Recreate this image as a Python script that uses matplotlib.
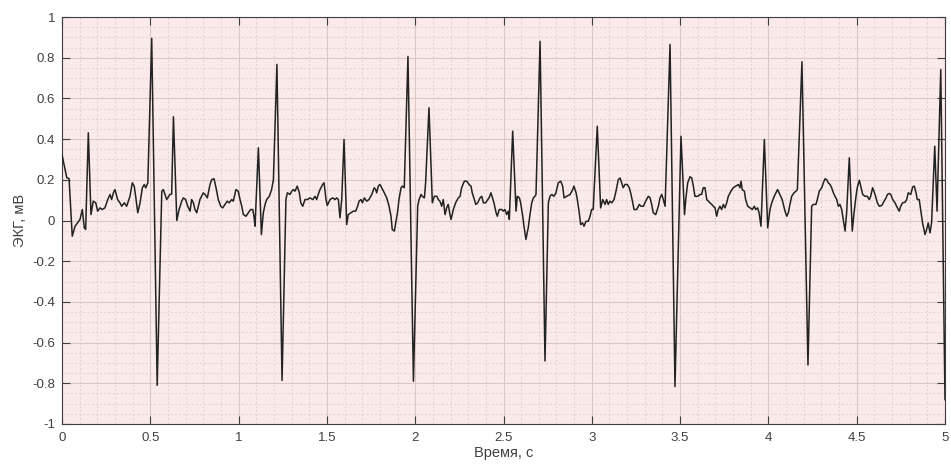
import matplotlib
matplotlib.use("Agg")
import matplotlib.pyplot as plt
from matplotlib.ticker import MultipleLocator, FixedLocator

# ---- data (time in s, ECG in mV) ----
time_s = [
    0.000, 0.027, 0.040, 0.058, 0.074, 0.102, 0.115, 0.126, 0.134, 0.149,
    0.164, 0.177, 0.191, 0.202, 0.215, 0.228, 0.243, 0.259, 0.272, 0.281,
    0.291, 0.300, 0.315, 0.328, 0.338, 0.353, 0.366, 0.385, 0.398, 0.409,
    0.417, 0.429, 0.442, 0.455, 0.466, 0.474, 0.486, 0.508, 0.539, 0.565,
    0.574, 0.593, 0.611, 0.621, 0.631, 0.650, 0.663, 0.678, 0.687, 0.700,
    0.712, 0.725, 0.734, 0.744, 0.753, 0.763, 0.781, 0.800, 0.810, 0.823,
    0.838, 0.848, 0.861, 0.872, 0.885, 0.899, 0.910, 0.923, 0.936, 0.947,
    0.961, 0.970, 0.985, 0.998, 1.008, 1.018, 1.027, 1.042, 1.055, 1.068,
    1.080, 1.087, 1.093, 1.112, 1.129, 1.140, 1.150, 1.159, 1.174, 1.187,
    1.197, 1.217, 1.246, 1.268, 1.276, 1.291, 1.301, 1.310, 1.319, 1.332,
    1.344, 1.352, 1.363, 1.376, 1.389, 1.404, 1.420, 1.433, 1.442, 1.451,
    1.461, 1.476, 1.484, 1.495, 1.502, 1.518, 1.533, 1.546, 1.555, 1.565,
    1.574, 1.584, 1.597, 1.612, 1.621, 1.636, 1.650, 1.663, 1.674, 1.682,
    1.693, 1.701, 1.712, 1.725, 1.738, 1.754, 1.768, 1.776, 1.782, 1.791,
    1.801, 1.810, 1.825, 1.839, 1.852, 1.863, 1.870, 1.882, 1.890, 1.901,
    1.908, 1.920, 1.927, 1.938, 1.959, 1.990, 2.014, 2.022, 2.033, 2.040,
    2.052, 2.059, 2.078, 2.097, 2.108, 2.122, 2.131, 2.140, 2.150, 2.159,
    2.169, 2.178, 2.187, 2.197, 2.203, 2.216, 2.229, 2.244, 2.254, 2.263,
    2.278, 2.292, 2.305, 2.316, 2.323, 2.335, 2.343, 2.354, 2.367, 2.377,
    2.386, 2.399, 2.411, 2.418, 2.429, 2.446, 2.458, 2.465, 2.476, 2.490,
    2.499, 2.508, 2.518, 2.527, 2.533, 2.552, 2.571, 2.578, 2.590, 2.597,
    2.609, 2.616, 2.627, 2.640, 2.650, 2.660, 2.669, 2.678, 2.684, 2.707,
    2.735, 2.754, 2.763, 2.773, 2.786, 2.797, 2.810, 2.824, 2.835, 2.843,
    2.858, 2.877, 2.892, 2.899, 2.911, 2.918, 2.929, 2.937, 2.948, 2.956,
    2.967, 2.980, 2.990, 2.999, 3.008, 3.031, 3.050, 3.062, 3.075, 3.084,
    3.093, 3.103, 3.113, 3.126, 3.137, 3.150, 3.160, 3.169, 3.178, 3.188,
    3.201, 3.212, 3.220, 3.232, 3.239, 3.254, 3.269, 3.279, 3.292, 3.305,
    3.320, 3.330, 3.339, 3.348, 3.362, 3.377, 3.386, 3.396, 3.405, 3.415,
    3.443, 3.471, 3.505, 3.525, 3.532, 3.543, 3.556, 3.566, 3.575, 3.584,
    3.600, 3.613, 3.622, 3.631, 3.641, 3.651, 3.660, 3.669, 3.679, 3.688,
    3.698, 3.707, 3.716, 3.726, 3.735, 3.745, 3.754, 3.764, 3.773, 3.788,
    3.801, 3.815, 3.830, 3.839, 3.845, 3.852, 3.864, 3.871, 3.883, 3.896,
    3.909, 3.920, 3.928, 3.939, 3.947, 3.958, 3.977, 3.996, 4.009, 4.019,
    4.033, 4.052, 4.065, 4.078, 4.094, 4.104, 4.113, 4.122, 4.132, 4.145,
    4.156, 4.164, 4.190, 4.224, 4.245, 4.254, 4.269, 4.277, 4.288, 4.302,
    4.311, 4.321, 4.330, 4.339, 4.349, 4.358, 4.368, 4.377, 4.387, 4.396,
    4.405, 4.415, 4.424, 4.434, 4.443, 4.458, 4.475, 4.485, 4.496, 4.503,
    4.515, 4.523, 4.534, 4.547, 4.560, 4.571, 4.579, 4.590, 4.604, 4.617,
    4.628, 4.642, 4.655, 4.666, 4.674, 4.685, 4.693, 4.704, 4.717, 4.726,
    4.741, 4.749, 4.760, 4.774, 4.783, 4.792, 4.806, 4.817, 4.826, 4.836,
    4.843, 4.854, 4.862, 4.873, 4.887, 4.896, 4.905, 4.915, 4.924, 4.942,
    4.955, 4.976, 5.000,
]

ecg_mv = [
    0.324, 0.210, 0.206, -0.077, -0.028, 0.005, 0.054, -0.036, -0.044, 0.431,
    0.029, 0.095, 0.087, 0.046, 0.062, 0.054, 0.062, 0.103, 0.128, 0.103,
    0.136, 0.152, 0.103, 0.087, 0.070, 0.087, 0.070, 0.119, 0.185, 0.169,
    0.119, 0.038, 0.087, 0.161, 0.177, 0.160, 0.185, 0.895, -0.810, 0.144,
    0.152, 0.103, 0.128, 0.130, 0.510, 0.000, 0.054, 0.095, 0.111, 0.103,
    0.070, 0.046, 0.103, 0.087, 0.054, 0.038, 0.103, 0.136, 0.128, 0.111,
    0.177, 0.201, 0.205, 0.161, 0.103, 0.070, 0.062, 0.079, 0.095, 0.087,
    0.103, 0.095, 0.152, 0.144, 0.103, 0.070, 0.029, 0.021, 0.038, 0.054,
    0.054, 0.021, -0.028, 0.357, -0.069, 0.038, 0.079, 0.103, 0.119, 0.152,
    0.201, 0.767, -0.786, 0.103, 0.136, 0.128, 0.144, 0.152, 0.144, 0.169,
    0.136, 0.087, 0.070, 0.103, 0.103, 0.111, 0.103, 0.119, 0.103, 0.128,
    0.152, 0.177, 0.185, 0.103, 0.074, 0.103, 0.111, 0.103, 0.111, 0.103,
    0.013, 0.103, 0.398, -0.020, 0.029, 0.038, 0.046, 0.046, 0.070, 0.095,
    0.103, 0.087, 0.111, 0.095, 0.103, 0.128, 0.161, 0.152, 0.136, 0.169,
    0.177, 0.161, 0.136, 0.111, 0.070, 0.021, -0.044, -0.052, -0.012, 0.046,
    0.103, 0.161, 0.169, 0.161, 0.806, -0.790, 0.070, 0.103, 0.128, 0.119,
    0.111, 0.185, 0.554, 0.087, 0.119, 0.119, 0.103, 0.095, 0.070, 0.103,
    0.029, 0.062, 0.079, 0.029, 0.005, 0.054, 0.087, 0.111, 0.119, 0.161,
    0.193, 0.193, 0.177, 0.169, 0.136, 0.103, 0.079, 0.087, 0.111, 0.119,
    0.087, 0.087, 0.103, 0.111, 0.136, 0.087, 0.038, 0.021, 0.054, 0.054,
    0.046, 0.054, 0.029, 0.046, 0.005, 0.439, 0.046, 0.119, 0.111, 0.087,
    0.021, -0.028, -0.093, -0.036, 0.029, 0.087, 0.111, 0.119, 0.128, 0.880,
    -0.690, 0.087, 0.119, 0.128, 0.119, 0.136, 0.185, 0.193, 0.169, 0.111,
    0.119, 0.128, 0.152, 0.169, 0.136, 0.103, 0.038, -0.020, -0.012, -0.028,
    -0.004, -0.004, 0.021, 0.054, 0.054, 0.463, 0.062, 0.103, 0.079, 0.103,
    0.079, 0.095, 0.087, 0.103, 0.144, 0.201, 0.209, 0.185, 0.161, 0.177,
    0.177, 0.161, 0.136, 0.087, 0.054, 0.054, 0.079, 0.070, 0.070, 0.095,
    0.119, 0.111, 0.079, 0.038, 0.029, 0.070, 0.111, 0.128, 0.103, 0.070,
    0.865, -0.816, 0.414, 0.029, 0.103, 0.185, 0.215, 0.209, 0.169, 0.119,
    0.119, 0.128, 0.128, 0.161, 0.161, 0.103, 0.095, 0.087, 0.079, 0.070,
    0.062, 0.021, 0.054, 0.070, 0.054, 0.079, 0.062, 0.087, 0.119, 0.144,
    0.161, 0.169, 0.177, 0.161, 0.193, 0.152, 0.144, 0.103, 0.070, 0.062,
    0.054, 0.070, 0.054, 0.062, 0.038, -0.028, 0.398, -0.036, 0.054, 0.087,
    0.119, 0.152, 0.128, 0.103, 0.046, 0.021, 0.038, 0.079, 0.119, 0.136,
    0.144, 0.152, 0.780, -0.710, 0.070, 0.079, 0.079, 0.103, 0.144, 0.161,
    0.185, 0.205, 0.201, 0.185, 0.177, 0.161, 0.136, 0.119, 0.103, 0.070,
    0.079, 0.054, 0.005, -0.052, 0.038, 0.308, -0.052, 0.038, 0.119, 0.161,
    0.198, 0.169, 0.128, 0.119, 0.119, 0.103, 0.119, 0.161, 0.128, 0.087,
    0.070, 0.074, 0.095, 0.111, 0.128, 0.133, 0.128, 0.103, 0.087, 0.070,
    0.046, 0.070, 0.087, 0.090, 0.103, 0.136, 0.128, 0.165, 0.169, 0.136,
    0.103, 0.103, 0.054, -0.012, -0.069, -0.044, -0.012, -0.061, -0.012, 0.365,
    0.046, 0.742, -0.880,
]

x_ticks = [0, 0.5, 1, 1.5, 2, 2.5, 3, 3.5, 4, 4.5, 5]
x_tick_labels = ["0", "0.5", "1", "1.5", "2", "2.5", "3", "3.5", "4", "4.5", "5"]
y_ticks = [-1, -0.8, -0.6, -0.4, -0.2, 0, 0.2, 0.4, 0.6, 0.8, 1]
y_tick_labels = ["-1", "-0.8", "-0.6", "-0.4", "-0.2", "0", "0.2", "0.4", "0.6", "0.8", "1"]
x_label = "Время, с"
y_label = "ЭКГ, мВ"

plt.rcParams["font.family"] = ["Liberation Sans", "DejaVu Sans"]

fig = plt.figure(figsize=(9.51, 4.68), dpi=100)
fig.patch.set_facecolor("white")
ax = fig.add_axes([62 / 951, 1 - 424 / 468, (945 - 62) / 951, (424 - 17) / 468])
ax.set_facecolor("#fbeaea")

ax.plot(time_s, ecg_mv, color="#222222", linewidth=1.1, zorder=3)

ax.set_xlim(0, 5)
ax.set_ylim(-1, 1)
ax.xaxis.set_major_locator(FixedLocator(x_ticks))
ax.set_xticklabels(x_tick_labels)
ax.yaxis.set_major_locator(FixedLocator(y_ticks))
ax.set_yticklabels(y_tick_labels)
ax.xaxis.set_minor_locator(MultipleLocator(0.1))
ax.yaxis.set_minor_locator(MultipleLocator(0.05))

ax.grid(which="major", color="#dcc6c6", linewidth=0.8, linestyle="-", zorder=1)
ax.grid(which="minor", color="#dfcfcf", linewidth=0.6, linestyle=(0, (2.5, 2.5)), zorder=1)
ax.set_axisbelow(True)

ax.tick_params(which="major", direction="in", length=6, width=0.8, top=True, right=True,
               colors="#404040", labelsize=9.5, labelcolor="#404040")
ax.tick_params(which="major", axis="x", pad=6)
ax.tick_params(which="major", axis="y", pad=5)
ax.tick_params(which="minor", length=0, top=True, right=True)
for s in ax.spines.values():
    s.set_color("#404040")
    s.set_linewidth(0.8)

ax.set_xlabel(x_label, fontsize=10.5, color="#404040", labelpad=1)
ax.set_ylabel(y_label, fontsize=10.5, color="#404040", labelpad=4)

fig.savefig("out.png", dpi=100)
